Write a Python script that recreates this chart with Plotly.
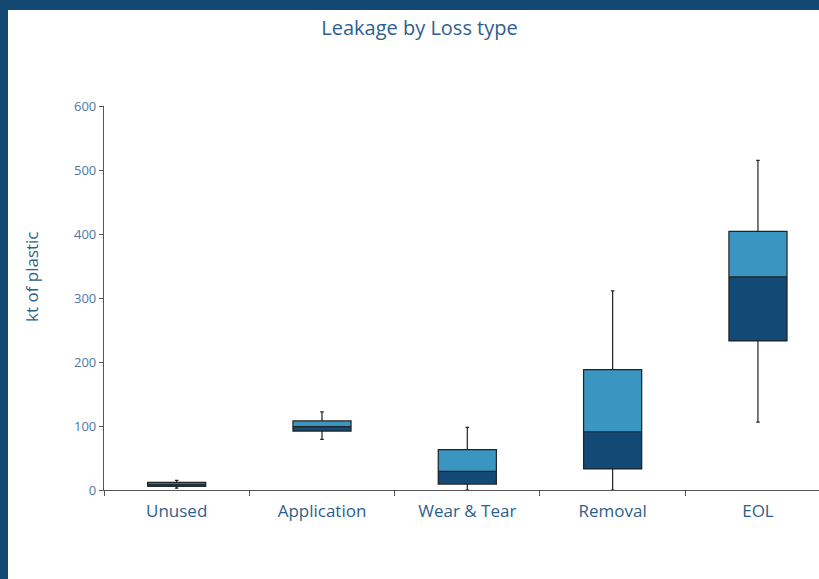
import plotly.graph_objects as go

categories = ["Unused", "Application", "Wear & Tear", "Removal", "EOL"]
lower = [3, 79, 0, 0, 106]
q1 = [6, 92, 9, 33, 233]
median = [9, 99, 29, 91, 333]
q3 = [12, 108, 63, 188, 404]
upper = [15, 122, 98, 311, 515]
y_ticks = [0, 100, 200, 300, 400, 500, 600]

DARK = "#134a75"
LIGHT = "#3a96c1"
FRAME = "#124872"
LINE = "#222222"
TEXT = "#2d5f8e"

fig = go.Figure()

fig.add_trace(go.Bar(
    x=categories, base=median, y=[b - a for a, b in zip(median, q3)],
    width=0.4, marker=dict(color=LIGHT, line=dict(width=0)),
    showlegend=False, hoverinfo="skip"))
fig.add_trace(go.Bar(
    x=categories, base=q1, y=[b - a for a, b in zip(q1, median)],
    width=0.4, marker=dict(color=DARK, line=dict(width=0)),
    showlegend=False, hoverinfo="skip"))
fig.add_trace(go.Box(
    x=categories, q1=q1, median=median, q3=q3,
    lowerfence=lower, upperfence=upper,
    width=0.4, whiskerwidth=0.06,
    fillcolor="rgba(0,0,0,0)", line=dict(color=LINE, width=1.2),
    showlegend=False, boxpoints=False))

W, H = 819, 579
L, R, T, B = 104, 0, 106, 89
pw, ph = W - L - R, H - T - B

def px_x(p):
    return (p - L) / pw

def px_y(p):
    return (H - B - p) / ph

shapes = [
    dict(type="rect", xref="paper", yref="paper", x0=px_x(-5), x1=px_x(W + 5),
         y0=px_y(10), y1=px_y(-5), fillcolor=FRAME, line=dict(width=0), layer="above"),
    dict(type="rect", xref="paper", yref="paper", x0=px_x(-5), x1=px_x(8),
         y0=px_y(H + 5), y1=px_y(-5), fillcolor=FRAME, line=dict(width=0), layer="above"),
]

FONT = "'Open Sans', Lato, sans-serif"

fig.update_layout(
    width=W, height=H,
    margin=dict(l=L, r=R, t=T, b=B, pad=0),
    paper_bgcolor="white", plot_bgcolor="white",
    barmode="overlay", bargap=0,
    font=dict(family=FONT),
    title=dict(text="Leakage by Loss type", x=419.5 / W, xref="container", xanchor="center",
               y=1 - 28 / H, yref="container", yanchor="middle",
               font=dict(size=20, color=TEXT)),
    shapes=shapes,
    annotations=[dict(text="kt of plastic", xref="paper", yref="paper",
                      x=px_x(31), y=px_y(277), textangle=-90, showarrow=False,
                      xanchor="center", yanchor="middle",
                      font=dict(size=17, color=TEXT))],
    xaxis=dict(type="category", range=[-0.5, 4.42], showgrid=False,
               showline=True, linecolor="#555555", linewidth=1.2,
               ticks="outside", tickson="boundaries", ticklen=5,
               tickcolor="#555555", tickwidth=1.2,
               ticklabelstandoff=5,
               tickfont=dict(size=17, color=TEXT)),
    yaxis=dict(range=[0, 600], tickvals=y_ticks, showgrid=False, zeroline=False,
               showline=True, linecolor="#555555", linewidth=1.2,
               ticks="outside", ticklen=4, tickcolor="#555555", tickwidth=1.2,
               tickfont=dict(size=13, color="#4f78a3")),
)

fig.write_html("out.html", config={"displayModeBar": False},
               post_script="document.body.style.margin='0';document.body.style.overflow='hidden';")
